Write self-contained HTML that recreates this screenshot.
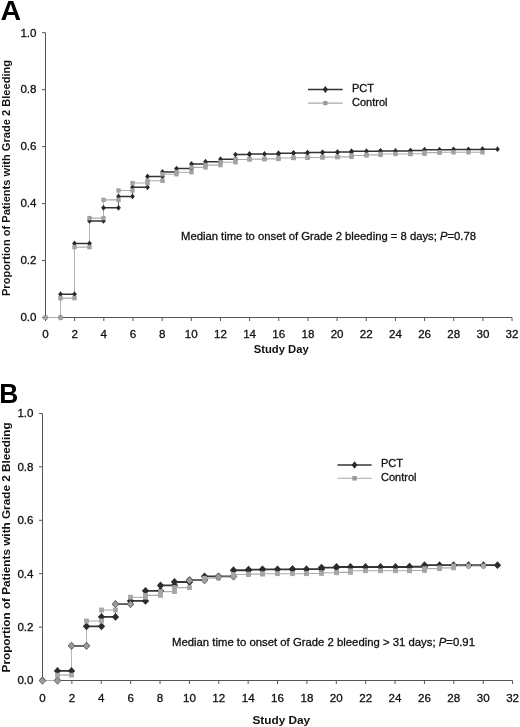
<!DOCTYPE html>
<html><head><meta charset="utf-8"><title>Figure</title>
<style>
html,body{margin:0;padding:0;background:#fff;}
body{width:520px;height:727px;overflow:hidden;font-family:"Liberation Sans",sans-serif;}
svg{display:block;will-change:transform;filter:grayscale(1);}
</style></head><body>
<svg width="520" height="727" viewBox="0 0 520 727">
<rect width="520" height="727" fill="#fff"/>
<g stroke="#555" stroke-width="1" fill="none" shape-rendering="auto">
<path d="M45.5 32.7 V317.5 H512.06"/>
<path d="M45.5 317.5 h-3.5"/>
<path d="M45.5 260.54 h-3.5"/>
<path d="M45.5 203.58 h-3.5"/>
<path d="M45.5 146.62 h-3.5"/>
<path d="M45.5 89.66 h-3.5"/>
<path d="M45.5 32.7 h-3.5"/>
<path d="M45.5 317.5 v3.5"/>
<path d="M74.66 317.5 v3.5"/>
<path d="M103.82 317.5 v3.5"/>
<path d="M132.98 317.5 v3.5"/>
<path d="M162.14 317.5 v3.5"/>
<path d="M191.3 317.5 v3.5"/>
<path d="M220.46 317.5 v3.5"/>
<path d="M249.62 317.5 v3.5"/>
<path d="M278.78 317.5 v3.5"/>
<path d="M307.94 317.5 v3.5"/>
<path d="M337.1 317.5 v3.5"/>
<path d="M366.26 317.5 v3.5"/>
<path d="M395.42 317.5 v3.5"/>
<path d="M424.58 317.5 v3.5"/>
<path d="M453.74 317.5 v3.5"/>
<path d="M482.9 317.5 v3.5"/>
<path d="M512.06 317.5 v3.5"/>
</g>
<g style="font-family:'Liberation Sans',sans-serif;font-size:11.6px" fill="#111" stroke="#111" stroke-width="0.3">
<text x="36.5" y="321.3" text-anchor="end">0.0</text>
<text x="36.5" y="264.34" text-anchor="end">0.2</text>
<text x="36.5" y="207.38" text-anchor="end">0.4</text>
<text x="36.5" y="150.42" text-anchor="end">0.6</text>
<text x="36.5" y="93.46" text-anchor="end">0.8</text>
<text x="36.5" y="36.5" text-anchor="end">1.0</text>
<text x="45.5" y="338" text-anchor="middle">0</text>
<text x="74.66" y="338" text-anchor="middle">2</text>
<text x="103.82" y="338" text-anchor="middle">4</text>
<text x="132.98" y="338" text-anchor="middle">6</text>
<text x="162.14" y="338" text-anchor="middle">8</text>
<text x="191.3" y="338" text-anchor="middle">10</text>
<text x="220.46" y="338" text-anchor="middle">12</text>
<text x="249.62" y="338" text-anchor="middle">14</text>
<text x="278.78" y="338" text-anchor="middle">16</text>
<text x="307.94" y="338" text-anchor="middle">18</text>
<text x="337.1" y="338" text-anchor="middle">20</text>
<text x="366.26" y="338" text-anchor="middle">22</text>
<text x="395.42" y="338" text-anchor="middle">24</text>
<text x="424.58" y="338" text-anchor="middle">26</text>
<text x="453.74" y="338" text-anchor="middle">28</text>
<text x="482.9" y="338" text-anchor="middle">30</text>
<text x="512.06" y="338" text-anchor="middle">32</text>
</g>
<path d="M60.5 317.5V294.15M74.5 294.15V243.45M89.5 243.45V220.95M103.5 220.95V207.85M118.5 207.85V196.46M132.5 196.46V187.35M147.5 187.35V176.52M162.5 176.52V171.97M176.5 171.97V168.55M191.5 168.55V163.99M205.5 163.99V161.71M220.5 161.71V159.15M235.5 159.15V154.59M249.5 154.59V154.02M278.5 154.02V153.17M293.5 153.17V152.89M307.5 152.89V152.6M322.5 152.6V152.32M337.5 152.32V152.03M351.5 152.03V151.18M380.5 151.18V150.89M410.5 150.89V150.61M424.5 150.61V149.75M453.5 149.75V149.47M482.5 149.47V149.18" fill="none" stroke="#666" stroke-width="1"/>
<path d="M60.5 294.15H74.5M74.5 243.45H89.5M89.5 220.95H103.5M103.5 207.85H118.5M118.5 196.46H132.5M132.5 187.35H147.5M147.5 176.52H162.5M162.5 171.97H176.5M176.5 168.55H191.5M191.5 163.99H205.5M205.5 161.71H220.5M220.5 159.15H235.5M235.5 154.59H249.5M249.5 154.02H264.5M264.5 154.02H278.5M278.5 153.17H293.5M293.5 152.89H307.5M307.5 152.6H322.5M322.5 152.32H337.5M337.5 152.03H351.5M351.5 151.18H366.5M366.5 151.18H380.5M380.5 150.89H395.5M395.5 150.89H410.5M410.5 150.61H424.5M424.5 149.75H439.5M439.5 149.75H453.5M453.5 149.47H468.5M468.5 149.47H482.5M482.5 149.18H497.5" fill="none" stroke="#333" stroke-width="1.5"/>
<path d="M60.5 317.5V298.13M74.5 298.13V247.15M89.5 247.15V218.1M103.5 218.1V199.88M118.5 199.88V190.48M132.5 190.48V183.07M147.5 183.07V180.8M162.5 180.8V174.25M176.5 174.25V172.25M191.5 172.25V167.41M205.5 167.41V165.13M220.5 165.13V162.28M235.5 162.28V159.44M249.5 159.44V159.15M264.5 159.15V158.87M278.5 158.87V158.01M293.5 158.01V157.73M307.5 157.73V157.44M322.5 157.44V157.16M337.5 157.16V156.87M351.5 156.87V155.45M366.5 155.45V154.88M380.5 154.88V154.02M410.5 154.02V153.74M424.5 153.74V152.6M439.5 152.6V152.32" fill="none" stroke="#b2b2b2" stroke-width="1"/>
<path d="M60.5 298.13H74.5M74.5 247.15H89.5M89.5 218.1H103.5M103.5 199.88H118.5M118.5 190.48H132.5M132.5 183.07H147.5M147.5 180.8H162.5M162.5 174.25H176.5M176.5 172.25H191.5M191.5 167.41H205.5M205.5 165.13H220.5M220.5 162.28H235.5M235.5 159.44H249.5M249.5 159.15H264.5M264.5 158.87H278.5M278.5 158.01H293.5M293.5 157.73H307.5M307.5 157.44H322.5M322.5 157.16H337.5M337.5 156.87H351.5M351.5 155.45H366.5M366.5 154.88H380.5M380.5 154.02H395.5M395.5 154.02H410.5M410.5 153.74H424.5M424.5 152.6H439.5M439.5 152.32H453.5M453.5 152.32H468.5M468.5 152.32H482.5M45.5 317.5H60.5" fill="none" stroke="#acacac" stroke-width="1.1"/>
<path d="M45.5 314.6 l2.4 2.9 l-2.4 2.9 l-2.4 -2.9z" fill="#2a2a2a"/>
<path d="M60.5 314.6 l2.4 2.9 l-2.4 2.9 l-2.4 -2.9z" fill="#2a2a2a"/>
<path d="M60.5 291.25 l2.4 2.9 l-2.4 2.9 l-2.4 -2.9z" fill="#2a2a2a"/>
<path d="M74.5 291.25 l2.4 2.9 l-2.4 2.9 l-2.4 -2.9z" fill="#2a2a2a"/>
<path d="M74.5 240.55 l2.4 2.9 l-2.4 2.9 l-2.4 -2.9z" fill="#2a2a2a"/>
<path d="M89.5 240.55 l2.4 2.9 l-2.4 2.9 l-2.4 -2.9z" fill="#2a2a2a"/>
<path d="M89.5 218.05 l2.4 2.9 l-2.4 2.9 l-2.4 -2.9z" fill="#2a2a2a"/>
<path d="M103.5 218.05 l2.4 2.9 l-2.4 2.9 l-2.4 -2.9z" fill="#2a2a2a"/>
<path d="M103.5 204.95 l2.4 2.9 l-2.4 2.9 l-2.4 -2.9z" fill="#2a2a2a"/>
<path d="M118.5 204.95 l2.4 2.9 l-2.4 2.9 l-2.4 -2.9z" fill="#2a2a2a"/>
<path d="M118.5 193.56 l2.4 2.9 l-2.4 2.9 l-2.4 -2.9z" fill="#2a2a2a"/>
<path d="M132.5 193.56 l2.4 2.9 l-2.4 2.9 l-2.4 -2.9z" fill="#2a2a2a"/>
<path d="M132.5 184.45 l2.4 2.9 l-2.4 2.9 l-2.4 -2.9z" fill="#2a2a2a"/>
<path d="M147.5 184.45 l2.4 2.9 l-2.4 2.9 l-2.4 -2.9z" fill="#2a2a2a"/>
<path d="M147.5 173.62 l2.4 2.9 l-2.4 2.9 l-2.4 -2.9z" fill="#2a2a2a"/>
<path d="M162.5 173.62 l2.4 2.9 l-2.4 2.9 l-2.4 -2.9z" fill="#2a2a2a"/>
<path d="M162.5 169.07 l2.4 2.9 l-2.4 2.9 l-2.4 -2.9z" fill="#2a2a2a"/>
<path d="M176.5 169.07 l2.4 2.9 l-2.4 2.9 l-2.4 -2.9z" fill="#2a2a2a"/>
<path d="M176.5 165.65 l2.4 2.9 l-2.4 2.9 l-2.4 -2.9z" fill="#2a2a2a"/>
<path d="M191.5 165.65 l2.4 2.9 l-2.4 2.9 l-2.4 -2.9z" fill="#2a2a2a"/>
<path d="M191.5 161.09 l2.4 2.9 l-2.4 2.9 l-2.4 -2.9z" fill="#2a2a2a"/>
<path d="M205.5 161.09 l2.4 2.9 l-2.4 2.9 l-2.4 -2.9z" fill="#2a2a2a"/>
<path d="M205.5 158.81 l2.4 2.9 l-2.4 2.9 l-2.4 -2.9z" fill="#2a2a2a"/>
<path d="M220.5 158.81 l2.4 2.9 l-2.4 2.9 l-2.4 -2.9z" fill="#2a2a2a"/>
<path d="M220.5 156.25 l2.4 2.9 l-2.4 2.9 l-2.4 -2.9z" fill="#2a2a2a"/>
<path d="M235.5 156.25 l2.4 2.9 l-2.4 2.9 l-2.4 -2.9z" fill="#2a2a2a"/>
<path d="M235.5 151.69 l2.4 2.9 l-2.4 2.9 l-2.4 -2.9z" fill="#2a2a2a"/>
<path d="M249.5 151.69 l2.4 2.9 l-2.4 2.9 l-2.4 -2.9z" fill="#2a2a2a"/>
<path d="M249.5 151.12 l2.4 2.9 l-2.4 2.9 l-2.4 -2.9z" fill="#2a2a2a"/>
<path d="M264.5 151.12 l2.4 2.9 l-2.4 2.9 l-2.4 -2.9z" fill="#2a2a2a"/>
<path d="M278.5 151.12 l2.4 2.9 l-2.4 2.9 l-2.4 -2.9z" fill="#2a2a2a"/>
<path d="M278.5 150.27 l2.4 2.9 l-2.4 2.9 l-2.4 -2.9z" fill="#2a2a2a"/>
<path d="M293.5 150.27 l2.4 2.9 l-2.4 2.9 l-2.4 -2.9z" fill="#2a2a2a"/>
<path d="M293.5 149.99 l2.4 2.9 l-2.4 2.9 l-2.4 -2.9z" fill="#2a2a2a"/>
<path d="M307.5 149.99 l2.4 2.9 l-2.4 2.9 l-2.4 -2.9z" fill="#2a2a2a"/>
<path d="M307.5 149.7 l2.4 2.9 l-2.4 2.9 l-2.4 -2.9z" fill="#2a2a2a"/>
<path d="M322.5 149.7 l2.4 2.9 l-2.4 2.9 l-2.4 -2.9z" fill="#2a2a2a"/>
<path d="M322.5 149.42 l2.4 2.9 l-2.4 2.9 l-2.4 -2.9z" fill="#2a2a2a"/>
<path d="M337.5 149.42 l2.4 2.9 l-2.4 2.9 l-2.4 -2.9z" fill="#2a2a2a"/>
<path d="M337.5 149.13 l2.4 2.9 l-2.4 2.9 l-2.4 -2.9z" fill="#2a2a2a"/>
<path d="M351.5 149.13 l2.4 2.9 l-2.4 2.9 l-2.4 -2.9z" fill="#2a2a2a"/>
<path d="M351.5 148.28 l2.4 2.9 l-2.4 2.9 l-2.4 -2.9z" fill="#2a2a2a"/>
<path d="M366.5 148.28 l2.4 2.9 l-2.4 2.9 l-2.4 -2.9z" fill="#2a2a2a"/>
<path d="M380.5 148.28 l2.4 2.9 l-2.4 2.9 l-2.4 -2.9z" fill="#2a2a2a"/>
<path d="M380.5 147.99 l2.4 2.9 l-2.4 2.9 l-2.4 -2.9z" fill="#2a2a2a"/>
<path d="M395.5 147.99 l2.4 2.9 l-2.4 2.9 l-2.4 -2.9z" fill="#2a2a2a"/>
<path d="M410.5 147.99 l2.4 2.9 l-2.4 2.9 l-2.4 -2.9z" fill="#2a2a2a"/>
<path d="M410.5 147.71 l2.4 2.9 l-2.4 2.9 l-2.4 -2.9z" fill="#2a2a2a"/>
<path d="M424.5 147.71 l2.4 2.9 l-2.4 2.9 l-2.4 -2.9z" fill="#2a2a2a"/>
<path d="M424.5 146.85 l2.4 2.9 l-2.4 2.9 l-2.4 -2.9z" fill="#2a2a2a"/>
<path d="M439.5 146.85 l2.4 2.9 l-2.4 2.9 l-2.4 -2.9z" fill="#2a2a2a"/>
<path d="M453.5 146.85 l2.4 2.9 l-2.4 2.9 l-2.4 -2.9z" fill="#2a2a2a"/>
<path d="M453.5 146.57 l2.4 2.9 l-2.4 2.9 l-2.4 -2.9z" fill="#2a2a2a"/>
<path d="M468.5 146.57 l2.4 2.9 l-2.4 2.9 l-2.4 -2.9z" fill="#2a2a2a"/>
<path d="M482.5 146.57 l2.4 2.9 l-2.4 2.9 l-2.4 -2.9z" fill="#2a2a2a"/>
<path d="M482.5 146.28 l2.4 2.9 l-2.4 2.9 l-2.4 -2.9z" fill="#2a2a2a"/>
<path d="M497.5 146.28 l2.4 2.9 l-2.4 2.9 l-2.4 -2.9z" fill="#2a2a2a"/>
<rect x="43.3" y="315.3" width="4.4" height="4.4" fill="#a2a2a2"/>
<rect x="58.3" y="315.3" width="4.4" height="4.4" fill="#a2a2a2"/>
<rect x="58.3" y="295.93" width="4.4" height="4.4" fill="#a2a2a2"/>
<rect x="72.3" y="295.93" width="4.4" height="4.4" fill="#a2a2a2"/>
<rect x="72.3" y="244.95" width="4.4" height="4.4" fill="#a2a2a2"/>
<rect x="87.3" y="244.95" width="4.4" height="4.4" fill="#a2a2a2"/>
<rect x="87.3" y="215.9" width="4.4" height="4.4" fill="#a2a2a2"/>
<rect x="101.3" y="215.9" width="4.4" height="4.4" fill="#a2a2a2"/>
<rect x="101.3" y="197.68" width="4.4" height="4.4" fill="#a2a2a2"/>
<rect x="116.3" y="197.68" width="4.4" height="4.4" fill="#a2a2a2"/>
<rect x="116.3" y="188.28" width="4.4" height="4.4" fill="#a2a2a2"/>
<rect x="130.3" y="188.28" width="4.4" height="4.4" fill="#a2a2a2"/>
<rect x="130.3" y="180.87" width="4.4" height="4.4" fill="#a2a2a2"/>
<rect x="145.3" y="180.87" width="4.4" height="4.4" fill="#a2a2a2"/>
<rect x="145.3" y="178.6" width="4.4" height="4.4" fill="#a2a2a2"/>
<rect x="160.3" y="178.6" width="4.4" height="4.4" fill="#a2a2a2"/>
<rect x="160.3" y="172.05" width="4.4" height="4.4" fill="#a2a2a2"/>
<rect x="174.3" y="172.05" width="4.4" height="4.4" fill="#a2a2a2"/>
<rect x="174.3" y="170.05" width="4.4" height="4.4" fill="#a2a2a2"/>
<rect x="189.3" y="170.05" width="4.4" height="4.4" fill="#a2a2a2"/>
<rect x="189.3" y="165.21" width="4.4" height="4.4" fill="#a2a2a2"/>
<rect x="203.3" y="165.21" width="4.4" height="4.4" fill="#a2a2a2"/>
<rect x="203.3" y="162.93" width="4.4" height="4.4" fill="#a2a2a2"/>
<rect x="218.3" y="162.93" width="4.4" height="4.4" fill="#a2a2a2"/>
<rect x="218.3" y="160.08" width="4.4" height="4.4" fill="#a2a2a2"/>
<rect x="233.3" y="160.08" width="4.4" height="4.4" fill="#a2a2a2"/>
<rect x="233.3" y="157.24" width="4.4" height="4.4" fill="#a2a2a2"/>
<rect x="247.3" y="157.24" width="4.4" height="4.4" fill="#a2a2a2"/>
<rect x="247.3" y="156.95" width="4.4" height="4.4" fill="#a2a2a2"/>
<rect x="262.3" y="156.95" width="4.4" height="4.4" fill="#a2a2a2"/>
<rect x="262.3" y="156.67" width="4.4" height="4.4" fill="#a2a2a2"/>
<rect x="276.3" y="156.67" width="4.4" height="4.4" fill="#a2a2a2"/>
<rect x="276.3" y="155.81" width="4.4" height="4.4" fill="#a2a2a2"/>
<rect x="291.3" y="155.81" width="4.4" height="4.4" fill="#a2a2a2"/>
<rect x="291.3" y="155.53" width="4.4" height="4.4" fill="#a2a2a2"/>
<rect x="305.3" y="155.53" width="4.4" height="4.4" fill="#a2a2a2"/>
<rect x="305.3" y="155.24" width="4.4" height="4.4" fill="#a2a2a2"/>
<rect x="320.3" y="155.24" width="4.4" height="4.4" fill="#a2a2a2"/>
<rect x="320.3" y="154.96" width="4.4" height="4.4" fill="#a2a2a2"/>
<rect x="335.3" y="154.96" width="4.4" height="4.4" fill="#a2a2a2"/>
<rect x="335.3" y="154.67" width="4.4" height="4.4" fill="#a2a2a2"/>
<rect x="349.3" y="154.67" width="4.4" height="4.4" fill="#a2a2a2"/>
<rect x="349.3" y="153.25" width="4.4" height="4.4" fill="#a2a2a2"/>
<rect x="364.3" y="153.25" width="4.4" height="4.4" fill="#a2a2a2"/>
<rect x="364.3" y="152.68" width="4.4" height="4.4" fill="#a2a2a2"/>
<rect x="378.3" y="152.68" width="4.4" height="4.4" fill="#a2a2a2"/>
<rect x="378.3" y="151.82" width="4.4" height="4.4" fill="#a2a2a2"/>
<rect x="393.3" y="151.82" width="4.4" height="4.4" fill="#a2a2a2"/>
<rect x="408.3" y="151.82" width="4.4" height="4.4" fill="#a2a2a2"/>
<rect x="408.3" y="151.54" width="4.4" height="4.4" fill="#a2a2a2"/>
<rect x="422.3" y="151.54" width="4.4" height="4.4" fill="#a2a2a2"/>
<rect x="422.3" y="150.4" width="4.4" height="4.4" fill="#a2a2a2"/>
<rect x="437.3" y="150.4" width="4.4" height="4.4" fill="#a2a2a2"/>
<rect x="437.3" y="150.12" width="4.4" height="4.4" fill="#a2a2a2"/>
<rect x="451.3" y="150.12" width="4.4" height="4.4" fill="#a2a2a2"/>
<rect x="466.3" y="150.12" width="4.4" height="4.4" fill="#a2a2a2"/>
<rect x="480.3" y="150.12" width="4.4" height="4.4" fill="#a2a2a2"/>
<path d="M308 89.5 H342.7" stroke="#333" stroke-width="1.5"/>
<path d="M325.35 86 l2.7 3.5 l-2.7 3.5 l-2.7 -3.5z" fill="#2a2a2a"/>
<path d="M308 103.1 H342.7" stroke="#a8a8a8" stroke-width="1.1"/>
<rect x="323.25" y="101" width="4.2" height="4.2" fill="#999"/>
<g style="font-family:'Liberation Sans',sans-serif;font-size:11px" fill="#111" stroke="#111" stroke-width="0.3">
<text x="352" y="91.8">PCT</text>
<text x="352" y="106.3">Control</text>
</g>
<text x="181" y="240.3" style="font-family:'Liberation Sans',sans-serif;font-size:11.27px" fill="#111" stroke="#111" stroke-width="0.3">Median time to onset of Grade 2 bleeding = 8 days; <tspan font-style="italic">P</tspan>=0.78</text>
<text x="281.2" y="353.3" text-anchor="middle" style="font-family:'Liberation Sans',sans-serif;font-size:11.25px;font-weight:bold" fill="#111">Study Day</text>
<text transform="translate(9.8 178) rotate(-90) scale(1 1)" text-anchor="middle" style="font-family:'Liberation Sans',sans-serif;font-size:11.1px;font-weight:bold" fill="#111">Proportion of Patients with Grade 2 Bleeding</text>
<text transform="translate(0.4 19.5) scale(1.05 1)" style="font-family:'Liberation Sans',sans-serif;font-size:27.2px;font-weight:bold" fill="#000">A</text>
<g stroke="#555" stroke-width="1" fill="none" shape-rendering="auto">
<path d="M42.5 413.5 V680.5 H512.58"/>
<path d="M42.5 680.5 h-3.5"/>
<path d="M42.5 627.1 h-3.5"/>
<path d="M42.5 573.7 h-3.5"/>
<path d="M42.5 520.3 h-3.5"/>
<path d="M42.5 466.9 h-3.5"/>
<path d="M42.5 413.5 h-3.5"/>
<path d="M42.5 680.5 v3.5"/>
<path d="M71.88 680.5 v3.5"/>
<path d="M101.26 680.5 v3.5"/>
<path d="M130.64 680.5 v3.5"/>
<path d="M160.02 680.5 v3.5"/>
<path d="M189.4 680.5 v3.5"/>
<path d="M218.78 680.5 v3.5"/>
<path d="M248.16 680.5 v3.5"/>
<path d="M277.54 680.5 v3.5"/>
<path d="M306.92 680.5 v3.5"/>
<path d="M336.3 680.5 v3.5"/>
<path d="M365.68 680.5 v3.5"/>
<path d="M395.06 680.5 v3.5"/>
<path d="M424.44 680.5 v3.5"/>
<path d="M453.82 680.5 v3.5"/>
<path d="M483.2 680.5 v3.5"/>
<path d="M512.58 680.5 v3.5"/>
</g>
<g style="font-family:'Liberation Sans',sans-serif;font-size:11.6px" fill="#111" stroke="#111" stroke-width="0.3">
<text x="33.5" y="684.3" text-anchor="end">0.0</text>
<text x="33.5" y="630.9" text-anchor="end">0.2</text>
<text x="33.5" y="577.5" text-anchor="end">0.4</text>
<text x="33.5" y="524.1" text-anchor="end">0.6</text>
<text x="33.5" y="470.7" text-anchor="end">0.8</text>
<text x="33.5" y="417.3" text-anchor="end">1.0</text>
<text x="42.5" y="701.7" text-anchor="middle">0</text>
<text x="71.88" y="701.7" text-anchor="middle">2</text>
<text x="101.26" y="701.7" text-anchor="middle">4</text>
<text x="130.64" y="701.7" text-anchor="middle">6</text>
<text x="160.02" y="701.7" text-anchor="middle">8</text>
<text x="189.4" y="701.7" text-anchor="middle">10</text>
<text x="218.78" y="701.7" text-anchor="middle">12</text>
<text x="248.16" y="701.7" text-anchor="middle">14</text>
<text x="277.54" y="701.7" text-anchor="middle">16</text>
<text x="306.92" y="701.7" text-anchor="middle">18</text>
<text x="336.3" y="701.7" text-anchor="middle">20</text>
<text x="365.68" y="701.7" text-anchor="middle">22</text>
<text x="395.06" y="701.7" text-anchor="middle">24</text>
<text x="424.44" y="701.7" text-anchor="middle">26</text>
<text x="453.82" y="701.7" text-anchor="middle">28</text>
<text x="483.2" y="701.7" text-anchor="middle">30</text>
<text x="512.58" y="701.7" text-anchor="middle">32</text>
</g>
<path d="M57.5 680.5V670.89M71.5 670.89V645.79M86.5 645.79V626.3M101.5 626.3V616.95M115.5 616.95V604.14M130.5 604.14V600.93M145.5 600.93V590.79M160.5 590.79V585.45M174.5 585.45V581.98M189.5 581.98V580.11M204.5 580.11V576.37M233.5 576.37V570.23M248.5 570.23V569.7M262.5 569.7V569.29M292.5 569.29V569.16M321.5 569.16V567.56M336.5 567.56V567.02M409.5 567.02V566.76M424.5 566.76V565.16" fill="none" stroke="#666" stroke-width="1"/>
<path d="M57.5 670.89H71.5M71.5 645.79H86.5M86.5 626.3H101.5M101.5 616.95H115.5M115.5 604.14H130.5M130.5 600.93H145.5M145.5 590.79H160.5M160.5 585.45H174.5M174.5 581.98H189.5M189.5 580.11H204.5M204.5 576.37H218.5M218.5 576.37H233.5M233.5 570.23H248.5M248.5 569.7H262.5M262.5 569.29H277.5M277.5 569.29H292.5M292.5 569.16H306.5M306.5 569.16H321.5M321.5 567.56H336.5M336.5 567.02H350.5M350.5 567.02H365.5M365.5 567.02H380.5M380.5 567.02H395.5M395.5 567.02H409.5M409.5 566.76H424.5M424.5 565.16H439.5M439.5 565.16H453.5M453.5 565.16H468.5M468.5 565.16H483.5M483.5 565.16H497.5" fill="none" stroke="#363636" stroke-width="1.8"/>
<path d="M57.5 680.5V675.16M71.5 675.16V645.79M86.5 645.79V620.96M101.5 620.96V610.01M115.5 610.01V604.14M130.5 604.14V597.2M145.5 597.2V595.33M160.5 595.33V591.59M174.5 591.59V587.58M189.5 587.58V580.38M204.5 580.38V578.24M218.5 578.24V576.64M233.5 576.64V574.5M248.5 574.5V574.1M262.5 574.1V573.7M306.5 573.7V573.43M321.5 573.43V572.74M336.5 572.74V572.37M350.5 572.37V570.76M409.5 570.76V570.5M424.5 570.5V568.63M439.5 568.63V567.83M453.5 567.83V565.96" fill="none" stroke="#b4b4b4" stroke-width="1"/>
<path d="M57.5 675.16H71.5M86.5 620.96H101.5M101.5 610.01H115.5M130.5 597.2H145.5M145.5 595.33H160.5M160.5 591.59H174.5M174.5 587.58H189.5M204.5 578.24H218.5M233.5 574.5H248.5M248.5 574.1H262.5M262.5 573.7H277.5M277.5 573.7H292.5M292.5 573.7H306.5M306.5 573.43H321.5M321.5 572.74H336.5M336.5 572.37H350.5M350.5 570.76H365.5M365.5 570.76H380.5M380.5 570.76H395.5M395.5 570.76H409.5M409.5 570.5H424.5M424.5 568.63H439.5M439.5 567.83H453.5M453.5 565.96H468.5M468.5 565.96H483.5M42.5 680.5H57.5" fill="none" stroke="#aaa" stroke-width="1.1"/>
<path d="M71.5 645.79H86.5M115.5 604.14H130.5M189.5 580.38H204.5M218.5 576.64H233.5" fill="none" stroke="#aaa" stroke-width="0.5"/>
<path d="M42.5 676.6 l3.65 3.9 l-3.65 3.9 l-3.65 -3.9z" fill="#2c2c2c"/>
<path d="M57.5 676.6 l3.65 3.9 l-3.65 3.9 l-3.65 -3.9z" fill="#2c2c2c"/>
<path d="M57.5 666.99 l3.65 3.9 l-3.65 3.9 l-3.65 -3.9z" fill="#2c2c2c"/>
<path d="M71.5 666.99 l3.65 3.9 l-3.65 3.9 l-3.65 -3.9z" fill="#2c2c2c"/>
<path d="M71.5 641.89 l3.65 3.9 l-3.65 3.9 l-3.65 -3.9z" fill="#2c2c2c"/>
<path d="M86.5 641.89 l3.65 3.9 l-3.65 3.9 l-3.65 -3.9z" fill="#2c2c2c"/>
<path d="M86.5 622.4 l3.65 3.9 l-3.65 3.9 l-3.65 -3.9z" fill="#2c2c2c"/>
<path d="M101.5 622.4 l3.65 3.9 l-3.65 3.9 l-3.65 -3.9z" fill="#2c2c2c"/>
<path d="M101.5 613.05 l3.65 3.9 l-3.65 3.9 l-3.65 -3.9z" fill="#2c2c2c"/>
<path d="M115.5 613.05 l3.65 3.9 l-3.65 3.9 l-3.65 -3.9z" fill="#2c2c2c"/>
<path d="M115.5 600.24 l3.65 3.9 l-3.65 3.9 l-3.65 -3.9z" fill="#2c2c2c"/>
<path d="M130.5 600.24 l3.65 3.9 l-3.65 3.9 l-3.65 -3.9z" fill="#2c2c2c"/>
<path d="M130.5 597.03 l3.65 3.9 l-3.65 3.9 l-3.65 -3.9z" fill="#2c2c2c"/>
<path d="M145.5 597.03 l3.65 3.9 l-3.65 3.9 l-3.65 -3.9z" fill="#2c2c2c"/>
<path d="M145.5 586.89 l3.65 3.9 l-3.65 3.9 l-3.65 -3.9z" fill="#2c2c2c"/>
<path d="M160.5 586.89 l3.65 3.9 l-3.65 3.9 l-3.65 -3.9z" fill="#2c2c2c"/>
<path d="M160.5 581.55 l3.65 3.9 l-3.65 3.9 l-3.65 -3.9z" fill="#2c2c2c"/>
<path d="M174.5 581.55 l3.65 3.9 l-3.65 3.9 l-3.65 -3.9z" fill="#2c2c2c"/>
<path d="M174.5 578.08 l3.65 3.9 l-3.65 3.9 l-3.65 -3.9z" fill="#2c2c2c"/>
<path d="M189.5 578.08 l3.65 3.9 l-3.65 3.9 l-3.65 -3.9z" fill="#2c2c2c"/>
<path d="M189.5 576.21 l3.65 3.9 l-3.65 3.9 l-3.65 -3.9z" fill="#2c2c2c"/>
<path d="M204.5 576.21 l3.65 3.9 l-3.65 3.9 l-3.65 -3.9z" fill="#2c2c2c"/>
<path d="M204.5 572.47 l3.65 3.9 l-3.65 3.9 l-3.65 -3.9z" fill="#2c2c2c"/>
<path d="M218.5 572.47 l3.65 3.9 l-3.65 3.9 l-3.65 -3.9z" fill="#2c2c2c"/>
<path d="M233.5 572.47 l3.65 3.9 l-3.65 3.9 l-3.65 -3.9z" fill="#2c2c2c"/>
<path d="M233.5 566.33 l3.65 3.9 l-3.65 3.9 l-3.65 -3.9z" fill="#2c2c2c"/>
<path d="M248.5 566.33 l3.65 3.9 l-3.65 3.9 l-3.65 -3.9z" fill="#2c2c2c"/>
<path d="M248.5 565.8 l3.65 3.9 l-3.65 3.9 l-3.65 -3.9z" fill="#2c2c2c"/>
<path d="M262.5 565.8 l3.65 3.9 l-3.65 3.9 l-3.65 -3.9z" fill="#2c2c2c"/>
<path d="M262.5 565.39 l3.65 3.9 l-3.65 3.9 l-3.65 -3.9z" fill="#2c2c2c"/>
<path d="M277.5 565.39 l3.65 3.9 l-3.65 3.9 l-3.65 -3.9z" fill="#2c2c2c"/>
<path d="M292.5 565.39 l3.65 3.9 l-3.65 3.9 l-3.65 -3.9z" fill="#2c2c2c"/>
<path d="M292.5 565.26 l3.65 3.9 l-3.65 3.9 l-3.65 -3.9z" fill="#2c2c2c"/>
<path d="M306.5 565.26 l3.65 3.9 l-3.65 3.9 l-3.65 -3.9z" fill="#2c2c2c"/>
<path d="M321.5 565.26 l3.65 3.9 l-3.65 3.9 l-3.65 -3.9z" fill="#2c2c2c"/>
<path d="M321.5 563.66 l3.65 3.9 l-3.65 3.9 l-3.65 -3.9z" fill="#2c2c2c"/>
<path d="M336.5 563.66 l3.65 3.9 l-3.65 3.9 l-3.65 -3.9z" fill="#2c2c2c"/>
<path d="M336.5 563.12 l3.65 3.9 l-3.65 3.9 l-3.65 -3.9z" fill="#2c2c2c"/>
<path d="M350.5 563.12 l3.65 3.9 l-3.65 3.9 l-3.65 -3.9z" fill="#2c2c2c"/>
<path d="M365.5 563.12 l3.65 3.9 l-3.65 3.9 l-3.65 -3.9z" fill="#2c2c2c"/>
<path d="M380.5 563.12 l3.65 3.9 l-3.65 3.9 l-3.65 -3.9z" fill="#2c2c2c"/>
<path d="M395.5 563.12 l3.65 3.9 l-3.65 3.9 l-3.65 -3.9z" fill="#2c2c2c"/>
<path d="M409.5 563.12 l3.65 3.9 l-3.65 3.9 l-3.65 -3.9z" fill="#2c2c2c"/>
<path d="M409.5 562.86 l3.65 3.9 l-3.65 3.9 l-3.65 -3.9z" fill="#2c2c2c"/>
<path d="M424.5 562.86 l3.65 3.9 l-3.65 3.9 l-3.65 -3.9z" fill="#2c2c2c"/>
<path d="M424.5 561.26 l3.65 3.9 l-3.65 3.9 l-3.65 -3.9z" fill="#2c2c2c"/>
<path d="M439.5 561.26 l3.65 3.9 l-3.65 3.9 l-3.65 -3.9z" fill="#2c2c2c"/>
<path d="M453.5 561.26 l3.65 3.9 l-3.65 3.9 l-3.65 -3.9z" fill="#2c2c2c"/>
<path d="M468.5 561.26 l3.65 3.9 l-3.65 3.9 l-3.65 -3.9z" fill="#2c2c2c"/>
<path d="M483.5 561.26 l3.65 3.9 l-3.65 3.9 l-3.65 -3.9z" fill="#2c2c2c"/>
<path d="M497.5 561.26 l3.65 3.9 l-3.65 3.9 l-3.65 -3.9z" fill="#2c2c2c"/>
<path d="M42.5 676.6 l3.65 3.9 l-3.65 3.9 l-3.65 -3.9z" fill="#666"/>
<path d="M42.5 677.5 l3 3.2 l-3 3.2 l-3 -3.2z" fill="#9c9c9c"/>
<path d="M57.5 676.6 l3.65 3.9 l-3.65 3.9 l-3.65 -3.9z" fill="#666"/>
<path d="M57.5 677.5 l3 3.2 l-3 3.2 l-3 -3.2z" fill="#9c9c9c"/>
<rect x="55.1" y="672.76" width="4.8" height="4.8" fill="#a6a6a6"/>
<rect x="69.1" y="672.76" width="4.8" height="4.8" fill="#a6a6a6"/>
<path d="M71.5 641.89 l3.65 3.9 l-3.65 3.9 l-3.65 -3.9z" fill="#666"/>
<path d="M71.5 642.79 l3 3.2 l-3 3.2 l-3 -3.2z" fill="#9c9c9c"/>
<path d="M86.5 641.89 l3.65 3.9 l-3.65 3.9 l-3.65 -3.9z" fill="#666"/>
<path d="M86.5 642.79 l3 3.2 l-3 3.2 l-3 -3.2z" fill="#9c9c9c"/>
<rect x="84.1" y="618.56" width="4.8" height="4.8" fill="#a6a6a6"/>
<rect x="99.1" y="618.56" width="4.8" height="4.8" fill="#a6a6a6"/>
<rect x="99.1" y="607.61" width="4.8" height="4.8" fill="#a6a6a6"/>
<rect x="113.1" y="607.61" width="4.8" height="4.8" fill="#a6a6a6"/>
<path d="M115.5 600.24 l3.65 3.9 l-3.65 3.9 l-3.65 -3.9z" fill="#666"/>
<path d="M115.5 601.14 l3 3.2 l-3 3.2 l-3 -3.2z" fill="#9c9c9c"/>
<path d="M130.5 600.24 l3.65 3.9 l-3.65 3.9 l-3.65 -3.9z" fill="#666"/>
<path d="M130.5 601.14 l3 3.2 l-3 3.2 l-3 -3.2z" fill="#9c9c9c"/>
<rect x="128.1" y="594.8" width="4.8" height="4.8" fill="#a6a6a6"/>
<rect x="143.1" y="594.8" width="4.8" height="4.8" fill="#a6a6a6"/>
<rect x="143.1" y="592.93" width="4.8" height="4.8" fill="#a6a6a6"/>
<rect x="158.1" y="592.93" width="4.8" height="4.8" fill="#a6a6a6"/>
<rect x="158.1" y="589.19" width="4.8" height="4.8" fill="#a6a6a6"/>
<rect x="172.1" y="589.19" width="4.8" height="4.8" fill="#a6a6a6"/>
<rect x="172.1" y="585.18" width="4.8" height="4.8" fill="#a6a6a6"/>
<rect x="187.1" y="585.18" width="4.8" height="4.8" fill="#a6a6a6"/>
<path d="M189.5 576.48 l3.65 3.9 l-3.65 3.9 l-3.65 -3.9z" fill="#666"/>
<path d="M189.5 577.38 l3 3.2 l-3 3.2 l-3 -3.2z" fill="#9c9c9c"/>
<path d="M204.5 576.48 l3.65 3.9 l-3.65 3.9 l-3.65 -3.9z" fill="#666"/>
<path d="M204.5 577.38 l3 3.2 l-3 3.2 l-3 -3.2z" fill="#9c9c9c"/>
<rect x="202.1" y="575.84" width="4.8" height="4.8" fill="#a6a6a6"/>
<rect x="216.1" y="575.84" width="4.8" height="4.8" fill="#a6a6a6"/>
<path d="M218.5 572.74 l3.65 3.9 l-3.65 3.9 l-3.65 -3.9z" fill="#666"/>
<path d="M218.5 573.64 l3 3.2 l-3 3.2 l-3 -3.2z" fill="#9c9c9c"/>
<path d="M233.5 572.74 l3.65 3.9 l-3.65 3.9 l-3.65 -3.9z" fill="#666"/>
<path d="M233.5 573.64 l3 3.2 l-3 3.2 l-3 -3.2z" fill="#9c9c9c"/>
<rect x="231.1" y="572.1" width="4.8" height="4.8" fill="#a6a6a6"/>
<rect x="246.1" y="572.1" width="4.8" height="4.8" fill="#a6a6a6"/>
<rect x="246.1" y="571.7" width="4.8" height="4.8" fill="#a6a6a6"/>
<rect x="260.1" y="571.7" width="4.8" height="4.8" fill="#a6a6a6"/>
<rect x="260.1" y="571.3" width="4.8" height="4.8" fill="#a6a6a6"/>
<rect x="275.1" y="571.3" width="4.8" height="4.8" fill="#a6a6a6"/>
<rect x="290.1" y="571.3" width="4.8" height="4.8" fill="#a6a6a6"/>
<rect x="304.1" y="571.3" width="4.8" height="4.8" fill="#a6a6a6"/>
<rect x="304.1" y="571.03" width="4.8" height="4.8" fill="#a6a6a6"/>
<rect x="319.1" y="571.03" width="4.8" height="4.8" fill="#a6a6a6"/>
<rect x="319.1" y="570.34" width="4.8" height="4.8" fill="#a6a6a6"/>
<rect x="334.1" y="570.34" width="4.8" height="4.8" fill="#a6a6a6"/>
<rect x="334.1" y="569.97" width="4.8" height="4.8" fill="#a6a6a6"/>
<rect x="348.1" y="569.97" width="4.8" height="4.8" fill="#a6a6a6"/>
<rect x="348.1" y="568.36" width="4.8" height="4.8" fill="#a6a6a6"/>
<rect x="363.1" y="568.36" width="4.8" height="4.8" fill="#a6a6a6"/>
<rect x="378.1" y="568.36" width="4.8" height="4.8" fill="#a6a6a6"/>
<rect x="393.1" y="568.36" width="4.8" height="4.8" fill="#a6a6a6"/>
<rect x="407.1" y="568.36" width="4.8" height="4.8" fill="#a6a6a6"/>
<rect x="407.1" y="568.1" width="4.8" height="4.8" fill="#a6a6a6"/>
<rect x="422.1" y="568.1" width="4.8" height="4.8" fill="#a6a6a6"/>
<rect x="422.1" y="566.23" width="4.8" height="4.8" fill="#a6a6a6"/>
<rect x="437.1" y="566.23" width="4.8" height="4.8" fill="#a6a6a6"/>
<rect x="437.1" y="565.43" width="4.8" height="4.8" fill="#a6a6a6"/>
<rect x="451.1" y="565.43" width="4.8" height="4.8" fill="#a6a6a6"/>
<rect x="451.1" y="563.56" width="4.8" height="4.8" fill="#a6a6a6"/>
<rect x="466.1" y="563.56" width="4.8" height="4.8" fill="#a6a6a6"/>
<rect x="481.1" y="563.56" width="4.8" height="4.8" fill="#a6a6a6"/>
<path d="M337.5 465 H371.6" stroke="#363636" stroke-width="1.5"/>
<path d="M354.55 461.25 l2.9 3.75 l-2.9 3.75 l-2.9 -3.75z" fill="#2c2c2c"/>
<path d="M337.5 478.3 H371.6" stroke="#a8a8a8" stroke-width="1.1"/>
<rect x="352.3" y="476.05" width="4.5" height="4.5" fill="#999"/>
<g style="font-family:'Liberation Sans',sans-serif;font-size:11.0px" fill="#111" stroke="#111" stroke-width="0.3">
<text x="381" y="467">PCT</text>
<text x="381" y="481.2">Control</text>
</g>
<text x="172" y="645.5" style="font-family:'Liberation Sans',sans-serif;font-size:11.33px" fill="#111" stroke="#111" stroke-width="0.3">Median time to onset of Grade 2 bleeding &gt; 31 days; <tspan font-style="italic">P</tspan>=0.91</text>
<text x="281.3" y="723.5" text-anchor="middle" style="font-family:'Liberation Sans',sans-serif;font-size:11.8px;font-weight:bold" fill="#111">Study Day</text>
<text transform="translate(9.8 547.4) rotate(-90) scale(1 1)" text-anchor="middle" style="font-family:'Liberation Sans',sans-serif;font-size:11.75px;font-weight:bold" fill="#111">Proportion of Patients with Grade 2 Bleeding</text>
<text transform="translate(-0.7 402.7) scale(0.97 1)" style="font-family:'Liberation Sans',sans-serif;font-size:27.2px;font-weight:bold" fill="#000">B</text>
</svg>
</body></html>
